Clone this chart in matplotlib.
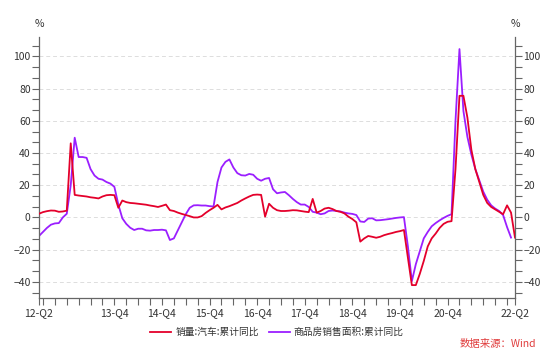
import numpy as np
import pandas as pd
import matplotlib
matplotlib.use("Agg")
from matplotlib import pyplot as plt
from matplotlib.ticker import MultipleLocator, FixedLocator

plt.rcParams['font.family'] = ['Noto Sans CJK SC', 'DejaVu Sans']

# monthly, 2012-05 .. 2022-05
months = pd.period_range("2012-05", "2022-05", freq="M")

# 销量:汽车:累计同比 (%)
car_sales = [
    2.3, 3.3, 3.9, 4.3, 4.2, 3.5, 3.7, 4.2, 46.0, 14.0,
    13.6, 13.3, 13.0, 12.5, 12.2, 11.8, 13.0, 13.8, 14.0, 13.8,
    6.0, 10.5, 9.5, 9.0, 8.8, 8.5, 8.2, 7.9, 7.4, 7.0,
    6.5, 7.2, 8.0, 4.5, 4.0, 3.0, 2.2, 1.5, 0.8, 0.0,
    0.0, 0.8, 2.8, 4.5, 6.0, 7.8, 5.0, 6.2, 7.0, 8.0,
    9.0, 10.5, 11.8, 13.0, 14.0, 14.2, 14.0, 0.5, 8.5, 6.0,
    4.5, 4.0, 4.0, 4.2, 4.5, 4.4, 4.0, 3.6, 3.3, 11.5,
    3.0, 4.0, 5.5, 6.0, 5.2, 4.0, 3.5, 2.5, 0.5, -1.0,
    -3.0, -15.0, -13.0, -11.5, -12.0, -12.6, -12.0, -11.0, -10.3, -9.7,
    -9.0, -8.5, -7.8, -25.0, -42.0, -42.0, -35.0, -27.0, -18.0, -13.0,
    -10.0, -6.5, -4.0, -2.7, -2.3, 30.0, 75.5, 75.5, 62.0, 42.0,
    30.0, 22.0, 14.0, 9.0, 6.5, 5.0, 3.5, 2.0, 7.5, 3.0,
    -12.5,
]

# 商品房销售面积:累计同比 (%), last month not yet published
house_area = [
    -11.5, -9.0, -6.5, -4.5, -3.7, -3.5, 0.0, 2.3, 20.0, 49.5,
    37.5, 37.5, 37.0, 30.0, 26.0, 24.0, 23.5, 22.0, 21.0, 19.0,
    8.0, -0.5, -4.0, -6.4, -7.8, -7.0, -7.0, -8.0, -8.2, -7.8,
    -7.8, -7.6, -8.0, -14.0, -13.0, -8.0, -3.0, 2.0, 6.0, 7.5,
    7.6, 7.4, 7.4, 7.0, 6.8, 22.0, 31.0, 34.5, 36.0, 31.0,
    27.5, 26.2, 26.0, 27.0, 26.5, 24.0, 22.8, 24.0, 24.5, 17.5,
    15.0, 15.5, 15.8, 13.8, 11.5, 9.5, 8.0, 8.0, 6.5, 3.5,
    3.0, 2.0, 2.5, 4.0, 4.3, 4.0, 3.7, 3.0, 2.5, 2.2,
    1.5, -2.5, -2.8, -0.7, -0.5, -1.8, -1.7, -1.4, -1.1, -0.7,
    -0.3, 0.0, 0.2, -18.0, -39.5, -29.0, -21.0, -13.0, -9.0, -5.5,
    -3.5, -1.8, -0.3, 1.0, 2.0, 60.0, 104.5, 66.0, 50.0, 39.0,
    30.0, 23.0, 16.0, 11.0, 7.5, 5.5, 4.0, 1.5, -6.0, -12.5,
]

tick_months = ["2012-05", "2013-12", "2014-12", "2015-12", "2016-12",
               "2017-12", "2018-12", "2019-12", "2020-12", "2022-05"]
tick_labels = ["12-Q2", "13-Q4", "14-Q4", "15-Q4", "16-Q4",
               "17-Q4", "18-Q4", "19-Q4", "20-Q4", "22-Q2"]

RED = "#e4002b"
PURPLE = "#9b1fff"
AXIS = "#666666"
TXT = "#333333"

t = np.arange(len(months))
t_house = t[:len(house_area)]
start = months[0]
tick_pos = [(pd.Period(m, freq="M") - start).n for m in tick_months]

fig = plt.figure(figsize=(5.54, 3.57), dpi=100)
ax = fig.add_axes([39 / 554, 1 - 298 / 357, 476 / 554, 261 / 357])

ax.plot(t, car_sales, color=RED, lw=1.3, label="销量:汽车:累计同比", zorder=3)
ax.plot(t_house, house_area, color=PURPLE, lw=1.3, label="商品房销售面积:累计同比", zorder=2)

ax.set_xlim(0, len(months) - 1)
ax.set_ylim(-50, 112)

for s in ["top"]:
    ax.spines[s].set_visible(False)
for s in ["left", "right", "bottom"]:
    ax.spines[s].set_color(AXIS)
    ax.spines[s].set_linewidth(0.9)

# y axis: labels on both sides
ax.yaxis.set_major_locator(FixedLocator([-40, -20, 0, 20, 40, 60, 80, 100]))
ax.yaxis.set_minor_locator(MultipleLocator(20 / 3))
ax.tick_params(axis="y", which="both", left=True, right=True, labelleft=True,
               labelright=True, direction="out", length=5, width=0.8,
               color=AXIS, labelsize=7.5, labelcolor=TXT, pad=1)
ax.grid(axis="y", which="major", color="#dddddd", ls=(0, (4, 3)), lw=0.7)

# x axis: quarterly minor ticks
ax.xaxis.set_major_locator(FixedLocator(tick_pos))
ax.xaxis.set_minor_locator(FixedLocator(np.arange(1, len(months), 3)))
ax.set_xticklabels(tick_labels)
ax.tick_params(axis="x", which="both", direction="out", length=5, width=0.8,
               color=AXIS, labelsize=7.5, labelcolor=TXT, pad=2)

fig.text(39 / 554, 1 - 24 / 357, "%", ha="center", va="center", fontsize=7.5, color=TXT)
fig.text(515 / 554, 1 - 24 / 357, "%", ha="center", va="center", fontsize=7.5, color=TXT)

fig.legend(loc="center", bbox_to_anchor=(277 / 554, 1 - 332 / 357), ncol=2,
           frameon=False, fontsize=7, handlelength=2.2, handletextpad=0.4,
           columnspacing=1.0, labelcolor=TXT)

fig.text(536 / 554, 1 - 344 / 357, "数据来源：Wind", ha="right", va="center",
         fontsize=7.5, color="#e03c3c")

fig.savefig("out.png", dpi=100)
